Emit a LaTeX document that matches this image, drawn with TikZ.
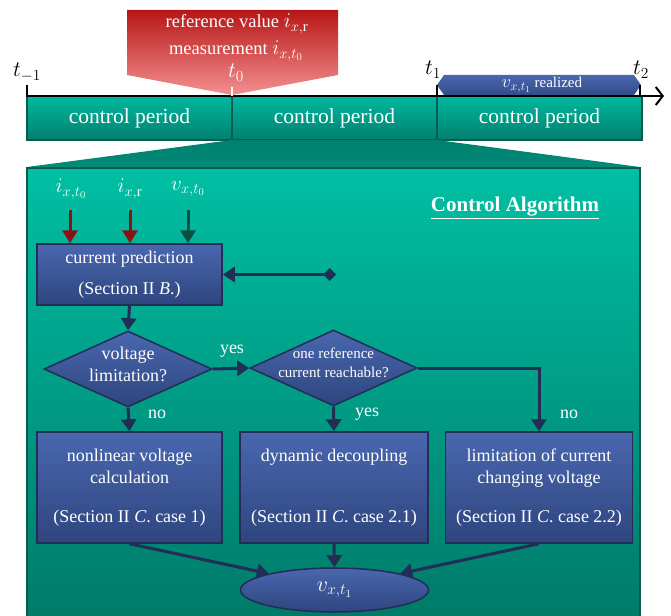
\RequirePackage{fix-cm}
\documentclass[tikz,border=0pt]{standalone}
\usepackage{fontspec}
\setmainfont{Liberation Serif}
\usetikzlibrary{shapes.geometric,arrows.meta}
\definecolor{tealtop}{HTML}{00BFA3}
\definecolor{tealbot}{HTML}{007A69}
\definecolor{cptop}{HTML}{00B89F}
\definecolor{cpbot}{HTML}{00806E}
\definecolor{tealline}{HTML}{0B5A4E}
\definecolor{bluetop}{HTML}{4A67AF}
\definecolor{bluebot}{HTML}{2E457E}
\definecolor{navy}{HTML}{222E55}
\definecolor{redtop}{HTML}{B81616}
\definecolor{redmid}{HTML}{C22424}
\definecolor{redbot}{HTML}{F39090}
\definecolor{arrred}{HTML}{8C1111}
\definecolor{arrgreen}{HTML}{0B4E42}
\newcommand{\fs}[2]{\fontsize{#1}{#2}\selectfont}
\begin{document}
\begin{tikzpicture}[x=1pt,y=-1pt,
  cpbox/.style={draw=tealline, line width=1.5pt, top color=cptop, bottom color=cpbot,
    minimum width=205pt, minimum height=44pt, inner sep=0pt, outer sep=0pt,
    text=white, font=\fs{21.5}{24}, anchor=north west},
  bluebox/.style={draw=navy, line width=1.5pt, top color=bluetop, bottom color=bluebot,
    inner sep=0pt, text=white, align=center, font=\fs{18}{22}},
  dia/.style={diamond, draw=navy, line width=1.5pt, top color=bluetop, bottom color=bluebot,
    inner sep=0pt, minimum width=168pt, minimum height=76pt},
  dialbl/.style={text=white, align=center},
  lbl/.style={text=white, font=\fs{18}{22}},
  mlbl/.style={text=white, font=\fs{21}{24}},
  flow/.style={navy, line width=3pt, -{Triangle[width=15pt,length=12pt]}},
  inarr/.style={line width=3pt, -{Triangle[width=15pt,length=13pt]}},
  tlbl/.style={font=\fs{22}{24}}
]
\useasboundingbox (0,0) rectangle (671,615);

% big algorithm box
\shade[top color=tealtop, bottom color=tealbot] (27,168) rectangle (640,618);
\draw[tealline, line width=2pt] (27,620) -- (27,168) -- (640,168) -- (640,620);

% control periods
\node[cpbox] (cp1) at (27,96) {control period};
\node[cpbox] (cp2) at (232,96) {control period};
\node[cpbox] (cp3) at (437,96) {control period};

% trapezoid
\shade[top color=cpbot, bottom color=cpbot!80!cptop] (cp2.south west) -- (cp2.south east) -- (640,167) -- (27,167) -- cycle;

% red callout
\shade[top color=redtop, middle color=redmid, bottom color=redbot]
  (127,10) -- (338,10) -- (338,75) -- (232,95) -- (127,75) -- cycle;
\node[text=white, font=\fs{18.5}{22}, anchor=base] (refv) at (237,28) {reference value {\fs{21}{24}$i_{x,\mathrm{r}}$}};
\node[text=white, font=\fs{18.5}{22}, anchor=base] (meas) at (236,55) {measurement {\fs{21}{24}$i_{x,t_0}$}};

% realized hexagon
\shade[top color=bluetop, bottom color=bluebot!80!bluetop]
  (437,85) -- (444,75) -- (634,75) -- (641,85) -- (634,95) -- (444,95) -- cycle;
\node[text=white, font=\fs{15}{16}, anchor=base] (real) at (542,88) {{\fs{18}{20}$v_{x,t_1}$} realized};

% time axis
\coordinate (axs) at (27,96);
\coordinate (axe) at (664,96);
\draw[line width=2.5pt, -{Straight Barb[length=7pt,width=18pt,line width=2pt]}] (axs) -- (axe);
\draw[line width=2pt] (27,85) -- (27,97);
\draw[white, line width=2pt] (232,87) -- (232,96);
\draw[line width=2pt] (437,85) -- (437,97);
\draw[line width=2pt] (640,85) -- (640,97);
\node[tlbl, anchor=base] (tm1) at (27,77) {$t_{-1}$};
\node[tlbl, anchor=base, text=white] (t0) at (236,78) {$t_0$};
\node[tlbl, anchor=base] (t1) at (433,75) {$t_1$};
\node[tlbl, anchor=base] (t2) at (641,75) {$t_2$};

% title
\node[text=white, font=\bfseries\fs{21}{24}] (title) at (515,208) {\underline{Control Algorithm}};

% inputs
\node[mlbl] (i1) at (71,189) {$i_{x,t_0}$};
\node[mlbl] (i2) at (130,189) {$i_{x,\mathrm{r}}$};
\node[mlbl] (i3) at (188,189) {$v_{x,t_0}$};

% current prediction
\node[bluebox, minimum width=185pt, minimum height=61pt] (pred) at (129.5,274.5)
  {current prediction\\[9pt](Section II \textit{B}.)};
\coordinate (a1) at (70,210);
\coordinate (a2) at (130,210);
\coordinate (a3) at (188,210);
\draw[inarr, arrred] (a1) -- (a1 |- pred.north);
\draw[inarr, arrred] (a2) -- (a2 |- pred.north);
\draw[inarr, arrgreen] (a3) -- (a3 |- pred.north);
\coordinate (fb) at (336,274.5);
\draw[navy, line width=3pt, {Diamond[width=13pt,length=13pt]}-{Triangle[width=15pt,length=12pt]}] (fb) -- (pred.east);

% diamonds
\node[dia] (d1) at (128,369) {};
\node[dialbl, font=\fs{18}{22}] at (128,364) {voltage\\limitation?};
\node[dia, minimum width=167pt] (d2) at (333.5,368) {};
\node[dialbl, font=\fs{15}{19}] at (333.5,363) {one reference\\current reachable?};

% boxes
\node[bluebox, minimum width=185pt, minimum height=111pt] (b1) at (129.5,487.5)
  {nonlinear voltage\\calculation\\[17pt](Section II \textit{C}. case 1)};
\node[bluebox, minimum width=188pt, minimum height=111pt] (b2) at (334,487.5)
  {dynamic decoupling\\[39pt](Section II \textit{C}. case 2.1)};
\node[bluebox, minimum width=187pt, minimum height=111pt] (b3) at (539,487.5)
  {limitation of current\\changing voltage\\[17pt](Section II \textit{C}. case 2.2)};

% ellipse
\node[ellipse, draw=navy, line width=1.5pt, top color=bluetop, bottom color=bluebot,
  minimum width=188pt, minimum height=44pt, inner sep=0pt, text=white, font=\fs{22}{24}] (ell) at (334.5,590) {$v_{x,t_1}$};

% flow connectors
\draw[flow] (pred.south) -- (d1.north);
\draw[flow] (d1.east) -- (d2.west);
\draw[flow] (d1.south) -- (b1.north);
\draw[flow] (d2.south) -- (b2.north);
\draw[flow] (d2.east) -| (b3.north);
\draw[flow] (b1.south) -- (ell.166);
\draw[flow] (b2.south) -- (ell.north);
\draw[flow] (b3.south) -- (ell.14);

\node[lbl] (yes1) at (232,351) {yes};
\node[lbl] (no1) at (157,414) {no};
\node[lbl] (yes2) at (367,414) {yes};
\node[lbl] (no2) at (569,414) {no};
\end{tikzpicture}
\end{document}
